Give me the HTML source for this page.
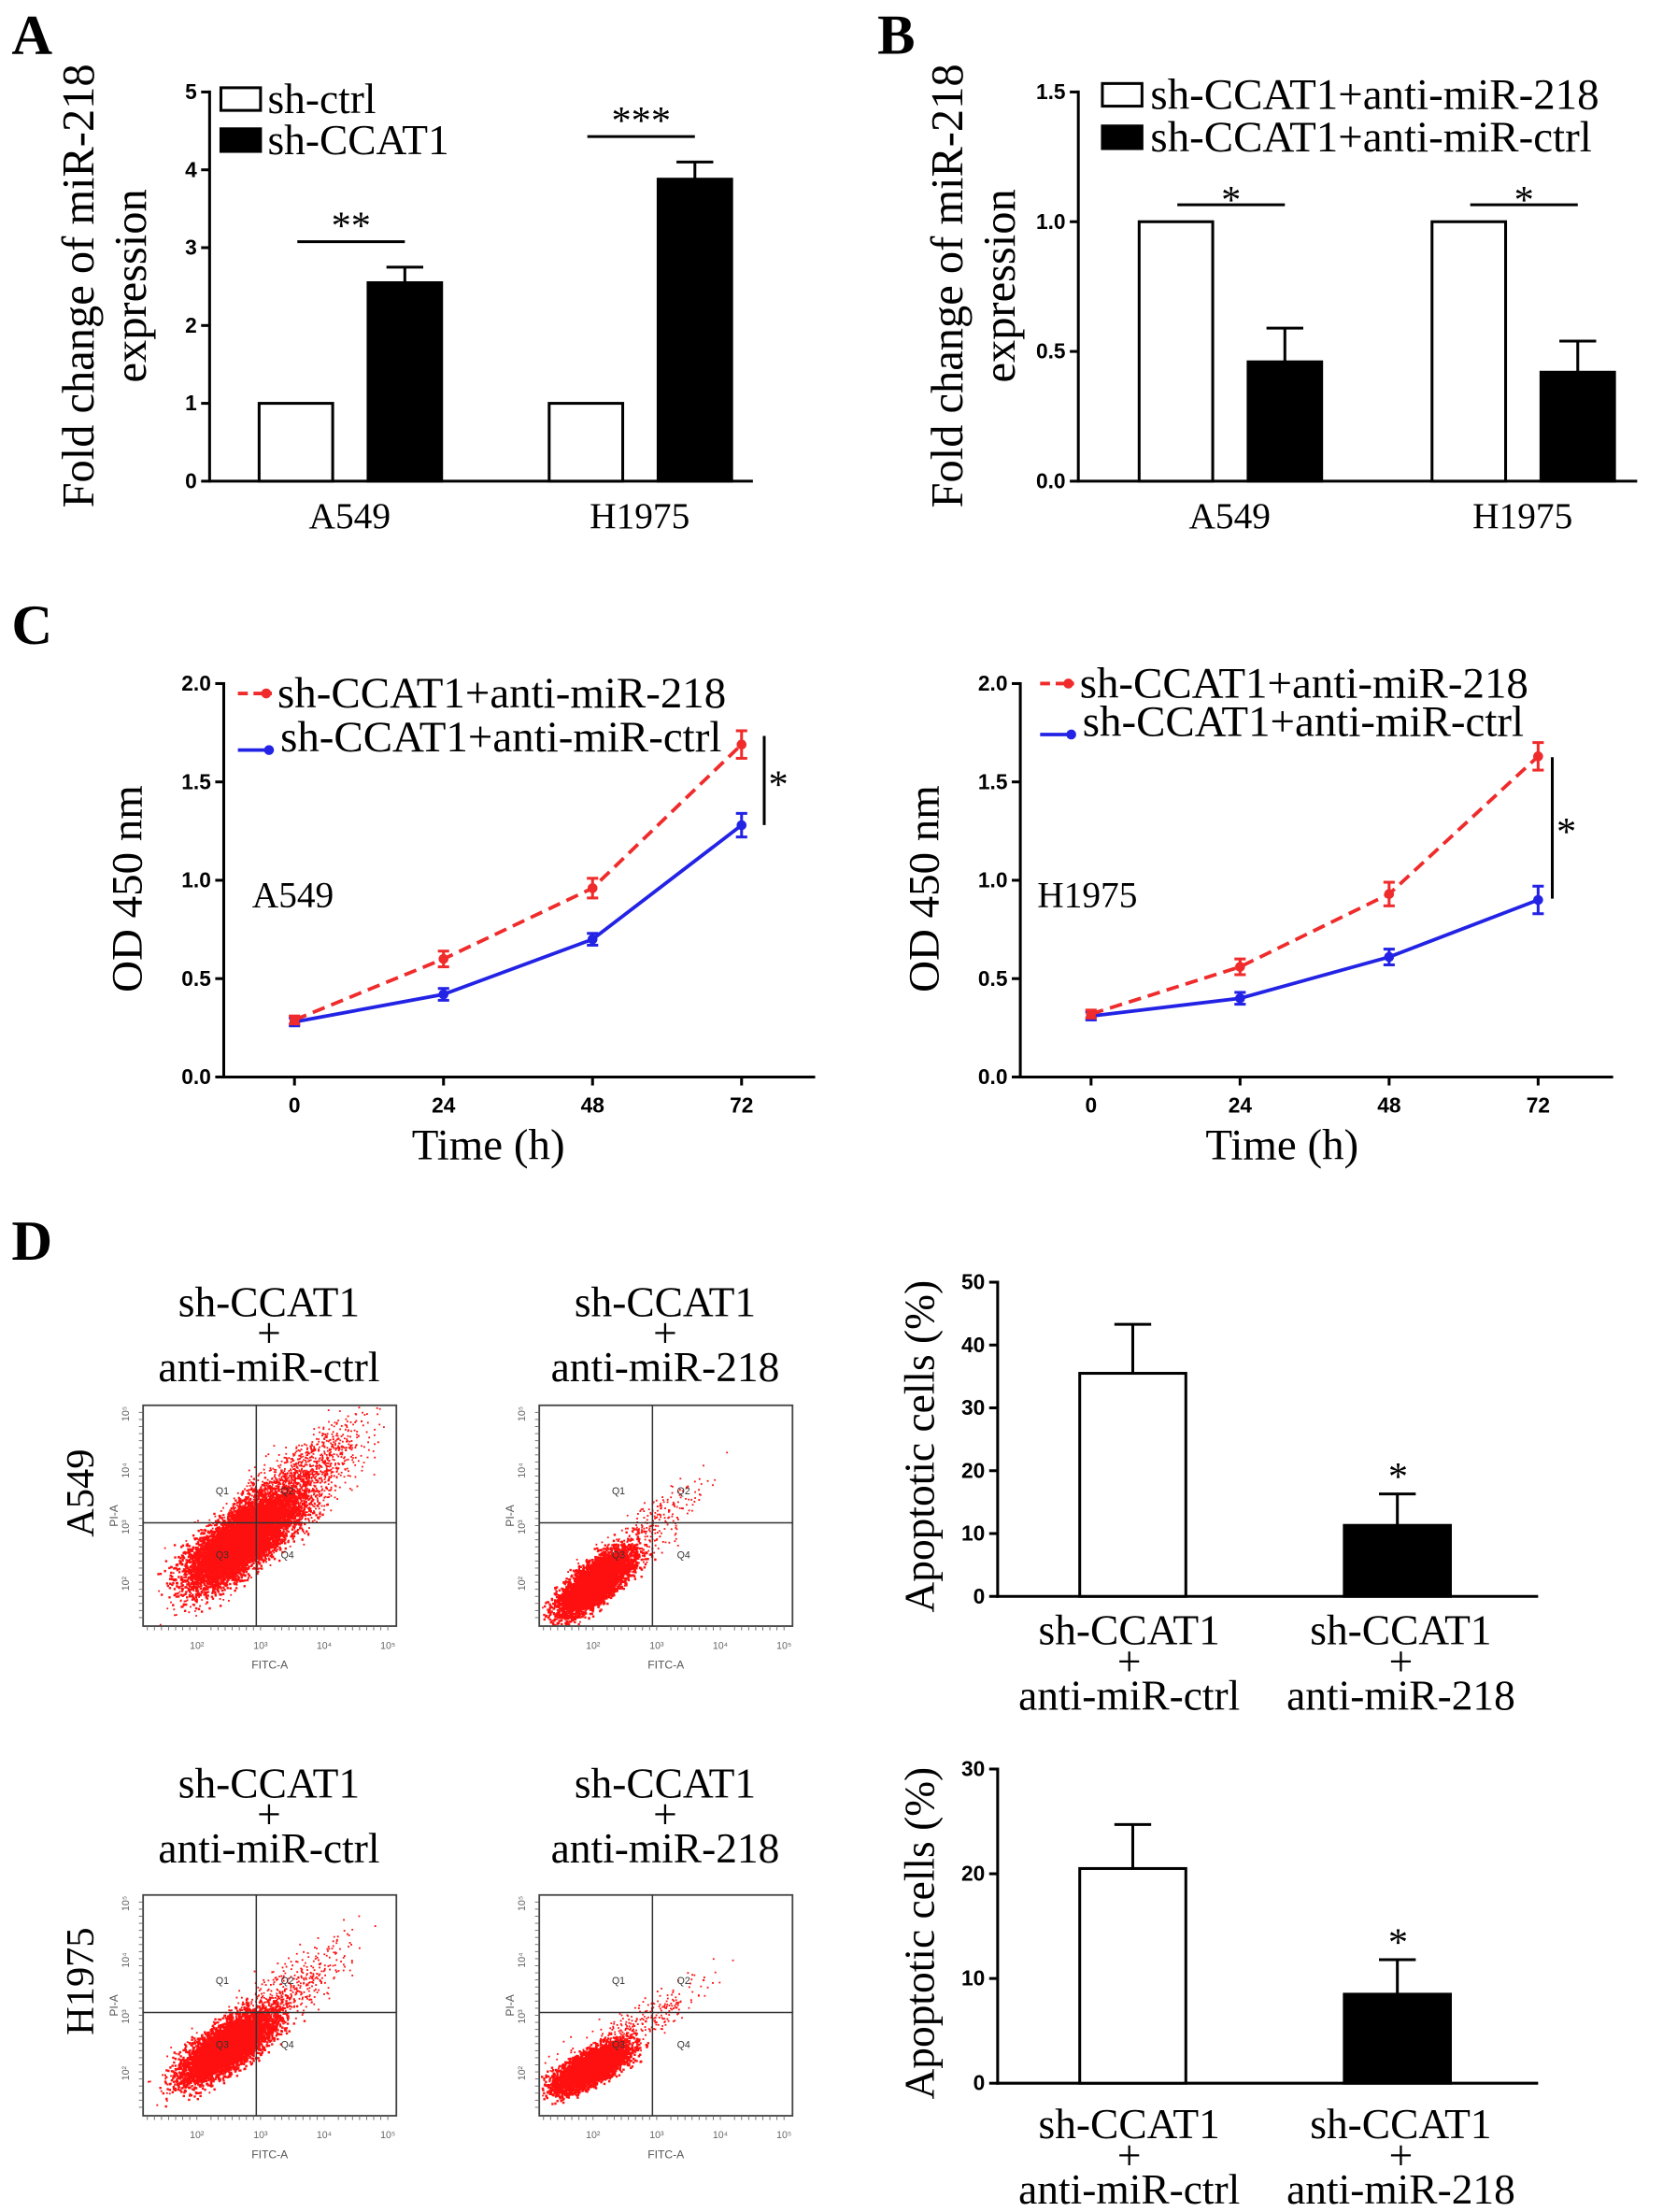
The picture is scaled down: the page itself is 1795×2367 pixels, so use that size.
<!DOCTYPE html>
<html><head><meta charset="utf-8"><style>
html,body{margin:0;padding:0;background:#fff}
svg{display:block}
</style></head><body>
<svg id="fig" width="1795" height="2367" viewBox="0 0 1185 1563" xmlns="http://www.w3.org/2000/svg">
<g id="root"></g>
</svg>
<script>
// ---- Data ----
const aCategories = ["A549", "H1975"];
const aCtrl = [1.0, 1.0];
const aCCAT1 = [2.55, 3.88];
const aCCAT1Err = [0.2, 0.22];
const aTicks = [0, 1, 2, 3, 4, 5];
const aStars = ["**", "***"];

const bCategories = ["A549", "H1975"];
const bAnti218 = [1.0, 1.0];
const bAntiCtrl = [0.46, 0.42];
const bAntiCtrlErr = [0.13, 0.12];
const bTicks = [0.0, 0.5, 1.0, 1.5];

const cTimes = [0, 24, 48, 72];
const cTicksY = [0.0, 0.5, 1.0, 1.5, 2.0];
const cA549Red = [0.29, 0.60, 0.96, 1.69];
const cA549RedErr = [0.02, 0.04, 0.05, 0.07];
const cA549Blue = [0.28, 0.42, 0.70, 1.28];
const cA549BlueErr = [0.02, 0.03, 0.03, 0.06];
const cH1975Red = [0.32, 0.56, 0.93, 1.63];
const cH1975RedErr = [0.02, 0.04, 0.06, 0.07];
const cH1975Blue = [0.31, 0.40, 0.61, 0.90];
const cH1975BlueErr = [0.02, 0.03, 0.04, 0.07];

const dA549Values = [35.5, 11.3];
const dA549Err = [7.8, 5.0];
const dA549Ticks = [0, 10, 20, 30, 40, 50];
const dH1975Values = [20.5, 8.5];
const dH1975Err = [4.2, 3.3];
const dH1975Ticks = [0, 10, 20, 30];

const NS = "http://www.w3.org/2000/svg";
const root = document.getElementById("root");
function el(tag, attrs, parent, text) {
  const e = document.createElementNS(NS, tag);
  for (const k in attrs) e.setAttribute(k, attrs[k]);
  if (text !== undefined) e.textContent = text;
  (parent || root).appendChild(e);
  return e;
}
function grp(name, parent) {
  const g = el("g", {}, parent);
  
  
  return g;
}
function txt(parent, x, y, s, size, opts) {
  opts = opts || {};
  const t = el("text", {x: x, y: y, "font-size": size, "text-anchor": opts.anchor || "middle",
    "font-family": opts.sans ? '"Liberation Sans",sans-serif' : '"Liberation Serif",serif',
    "font-weight": opts.bold ? "bold" : "normal", fill: opts.fill || "#000"}, parent, s);
  if (opts.rot) t.setAttribute("transform", "rotate(-90 " + x + " " + y + ")");
  
  
  return t;
}
function line(p, x1, y1, x2, y2, w, c, dash) {
  const l = el("line", {x1, y1, x2, y2, stroke: c || "#000", "stroke-width": w || 2}, p);
  if (dash) l.setAttribute("stroke-dasharray", dash);
  return l;
}

// Panel letters
[["A", 8, 38], ["B", 620, 38], ["C", 8, 455], ["D", 8, 890]].forEach(function (a) {
  txt(root, a[1], a[2], a[0], 40, {anchor: "start", bold: true, name: "panel-letter-" + a[0].toLowerCase()});
});

function barChart(cfg) {
  const g = grp(cfg.name);
  const y = v => cfg.y0 - (v - cfg.min) / (cfg.max - cfg.min) * (cfg.y0 - cfg.yTop);
  line(g, cfg.x0, cfg.yTop - 1, cfg.x0, cfg.y0 + 1, 2);
  line(g, cfg.x0 - 1, cfg.y0, cfg.xEnd, cfg.y0, 2);
  cfg.ticks.forEach(function (t) {
    line(g, cfg.x0 - 6, y(t), cfg.x0, y(t), 2);
    txt(g, cfg.x0 - 9, y(t) + 5, cfg.fmt(t), 15, {anchor: "end", sans: true, bold: true, name: "y-tick-label"});
  });
  cfg.groups.forEach(function (gr) {
    gr.bars.forEach(function (b) {
      const top = y(b.v);
      if (b.err !== undefined) {
        const et = y(b.v + b.err);
        line(g, b.x + b.w / 2, et, b.x + b.w / 2, top, 2);
        line(g, b.x + b.w / 2 - 13, et, b.x + b.w / 2 + 13, et, 2);
      }
      const r = el("rect", {x: b.x, y: top, width: b.w, height: cfg.y0 - top, fill: b.fill, stroke: "#000", "stroke-width": 2}, g);
      
      
    });
  });
  return {g, y};
}

// ---- Panel A ----
(function () {
  const xs = [183, 388];
  const groups = aCategories.map((c, i) => ({bars: [
    {x: xs[i], w: 52, v: aCtrl[i], fill: "#fff", name: "bar-" + c.toLowerCase() + "-sh-ctrl"},
    {x: xs[i] + 77, w: 52, v: aCCAT1[i], err: aCCAT1Err[i], fill: "#000", name: "bar-" + c.toLowerCase() + "-sh-ccat1"}]}));
  const r = barChart({name: "panel-a-chart", x0: 148, xEnd: 532, y0: 340, yTop: 65, min: 0, max: 5, ticks: aTicks, fmt: t => String(t), groups});
  aCategories.forEach(function (c, i) {
    txt(r.g, xs[i] + 64, 373, c, 26, {name: "x-tick-label"});
    const sy = r.y(aCCAT1[i] + aCCAT1Err[i]) - 18;
    line(r.g, xs[i] + 27, sy, xs[i] + 103, sy, 2);
    txt(r.g, xs[i] + 65, sy - 2, aStars[i], 28, {name: "significance-stars"});
  });
  el("rect", {x: 156, y: 62, width: 28, height: 16, fill: "#fff", stroke: "#000", "stroke-width": 2}, r.g);
  txt(r.g, 189, 80, "sh-ctrl", 30, {anchor: "start", name: "legend-entry-sh-ctrl"});
  el("rect", {x: 156, y: 91, width: 28, height: 16, fill: "#000", stroke: "#000", "stroke-width": 2}, r.g);
  txt(r.g, 189, 109, "sh-CCAT1", 30, {anchor: "start", name: "legend-entry-sh-ccat1"});
  txt(r.g, 66, 202, "Fold change of miR-218", 32, {rot: true, name: "y-axis-title"});
  txt(r.g, 103, 202, "expression", 32, {rot: true, name: "y-axis-title"});
})();

// ---- Panel B ----
(function () {
  const xs = [805, 1012];
  const groups = bCategories.map((c, i) => ({bars: [
    {x: xs[i], w: 52, v: bAnti218[i], fill: "#fff", name: "bar-" + c.toLowerCase() + "-anti-mir-218"},
    {x: xs[i] + 77, w: 52, v: bAntiCtrl[i], err: bAntiCtrlErr[i], fill: "#000", name: "bar-" + c.toLowerCase() + "-anti-mir-ctrl"}]}));
  const r = barChart({name: "panel-b-chart", x0: 762, xEnd: 1157, y0: 340, yTop: 65, min: 0, max: 1.5, ticks: bTicks, fmt: t => t.toFixed(1), groups});
  bCategories.forEach(function (c, i) {
    txt(r.g, xs[i] + 64, 373, c, 26, {name: "x-tick-label"});
    const sy = r.y(bAnti218[i]) - 12;
    line(r.g, xs[i] + 27, sy, xs[i] + 103, sy, 2);
    txt(r.g, xs[i] + 65, sy + 6, "*", 28, {name: "significance-star"});
  });
  el("rect", {x: 779, y: 59, width: 28, height: 16, fill: "#fff", stroke: "#000", "stroke-width": 2}, r.g);
  txt(r.g, 813, 77, "sh-CCAT1+anti-miR-218", 31, {anchor: "start", name: "legend-entry-anti-mir-218"});
  el("rect", {x: 779, y: 89, width: 28, height: 16, fill: "#000", stroke: "#000", "stroke-width": 2}, r.g);
  txt(r.g, 813, 107, "sh-CCAT1+anti-miR-ctrl", 31, {anchor: "start", name: "legend-entry-anti-mir-ctrl"});
  txt(r.g, 680, 202, "Fold change of miR-218", 32, {rot: true, name: "y-axis-title"});
  txt(r.g, 717, 202, "expression", 32, {rot: true, name: "y-axis-title"});
})();

// ---- Panel C ----
function lineChart(cfg) {
  const g = grp(cfg.name);
  const y0 = 761, yTop = 483;
  const y = v => y0 - v / 2.0 * (y0 - yTop);
  const x = t => cfg.xt0 + t / 72 * (cfg.xt72 - cfg.xt0);
  line(g, cfg.x0, yTop - 1, cfg.x0, y0 + 1, 2);
  line(g, cfg.x0 - 1, y0, cfg.xEnd, y0, 2);
  cTicksY.forEach(function (t) {
    line(g, cfg.x0 - 6, y(t), cfg.x0, y(t), 2);
    txt(g, cfg.x0 - 9, y(t) + 5, t.toFixed(1), 15, {anchor: "end", sans: true, bold: true, name: "y-tick-label"});
  });
  cTimes.forEach(function (t) {
    line(g, x(t), y0, x(t), y0 + 6, 2);
    txt(g, x(t), y0 + 25, String(t), 15, {sans: true, bold: true, name: "x-tick-label"});
  });
  [[cfg.blue, cfg.blueErr, "#2323e6", null, "series-anti-mir-ctrl"], [cfg.red, cfg.redErr, "#f02b2b", "9 5", "series-anti-mir-218"]].forEach(function (s) {
    const sg = grp(s[4], g);
    const pts = cTimes.map((t, i) => x(t) + "," + y(s[0][i])).join(" ");
    const pl = el("polyline", {points: pts, fill: "none", stroke: s[2], "stroke-width": 2.5}, sg);
    if (s[3]) pl.setAttribute("stroke-dasharray", s[3]);
    cTimes.forEach(function (t, i) {
      const cx = x(t), v = s[0][i], e = s[1][i];
      line(sg, cx, y(v + e), cx, y(v - e), 2, s[2]);
      line(sg, cx - 4, y(v + e), cx + 4, y(v + e), 2, s[2]);
      line(sg, cx - 4, y(v - e), cx + 4, y(v - e), 2, s[2]);
      const m = el("circle", {cx, cy: y(v), r: 3.5, fill: s[2]}, sg);
      
      
    });
  });
  line(g, cfg.sigX, cfg.sigY1, cfg.sigX, cfg.sigY2, 2);
  txt(g, cfg.sigX + 10, (cfg.sigY1 + cfg.sigY2) / 2 + 12, "*", 28, {name: "significance-star"});
  txt(g, cfg.cellX, 641, cfg.cell, 26, {anchor: "start", name: "cell-line-label"});
  line(g, cfg.lgX, cfg.lgY1, cfg.lgX + 24, cfg.lgY1, 2.5, "#f02b2b", "7 4");
  el("circle", {cx: cfg.lgX + 20, cy: cfg.lgY1, r: 3.5, fill: "#f02b2b"}, g);
  txt(g, cfg.lgX + 28, cfg.lgY1 + 10, "sh-CCAT1+anti-miR-218", 31, {anchor: "start", name: "legend-entry-anti-mir-218"});
  line(g, cfg.lgX, cfg.lgY2, cfg.lgX + 24, cfg.lgY2, 2.5, "#2323e6");
  el("circle", {cx: cfg.lgX + 22, cy: cfg.lgY2, r: 3.5, fill: "#2323e6"}, g);
  txt(g, cfg.lgX + 30, cfg.lgY2 + 1, "sh-CCAT1+anti-miR-ctrl", 31, {anchor: "start", name: "legend-entry-anti-mir-ctrl"});
  txt(g, cfg.titleX, 819, "Time (h)", 31, {name: "x-axis-title"});
  txt(g, cfg.x0 - 58, 628, "OD 450 nm", 31, {rot: true, name: "y-axis-title"});
}
lineChart({name: "panel-c-a549-chart", x0: 158, xEnd: 576, xt0: 208, xt72: 524, red: cA549Red, redErr: cA549RedErr, blue: cA549Blue, blueErr: cA549BlueErr,
  sigX: 540, sigY1: 520, sigY2: 583, cell: "A549", cellX: 178, lgX: 168, lgY1: 490, lgY2: 530, titleX: 345});
lineChart({name: "panel-c-h1975-chart", x0: 721, xEnd: 1140, xt0: 771, xt72: 1087, red: cH1975Red, redErr: cH1975RedErr, blue: cH1975Blue, blueErr: cH1975BlueErr,
  sigX: 1097, sigY1: 535, sigY2: 635, cell: "H1975", cellX: 733, lgX: 735, lgY1: 483, lgY2: 519, titleX: 906});

// ---- Panel D flow plots ----
let seed = 12345;
function rnd() { seed = (seed * 16807) % 2147483647; return seed / 2147483647; }
function gauss() { let u = 0; for (let i = 0; i < 4; i++) u += rnd(); return (u - 2) / 0.577; }
function flowPlot(name, bx, by, cx, cy, sx, sy, nDense, nSparse, spread) {
  const g = grp(name);
  const w = 179, h = 156;
  const qx = bx + 80, qy = by + 83;
  let d = "";
  for (let i = 0; i < nDense; i++) {
    const a = gauss(), b = gauss();
    const px = cx + a * sx + b * sx * 0.3, py = cy - a * sy * 0.9 + b * sy * 0.45;
    if (px > bx + 1 && px < bx + w - 1 && py > by + 1 && py < by + h - 1) d += "M" + px.toFixed(1) + " " + py.toFixed(1) + "h1.6v1.6h-1.6z";
  }
  for (let i = 0; i < nSparse; i++) {
    const a = gauss(), b = gauss();
    const px = cx + 25 + a * sx * spread, py = cy - 25 - a * sy * spread * 0.9 + b * sy * 0.9;
    if (px > bx + 1 && px < bx + w - 1 && py > by + 1 && py < by + h - 1) d += "M" + px.toFixed(1) + " " + py.toFixed(1) + "h1.2v1.2h-1.2z";
  }
  el("path", {d, fill: "#ff1010"}, g);
  el("rect", {x: bx, y: by, width: w, height: h, fill: "none", stroke: "#444", "stroke-width": 1.2}, g);
  line(g, qx, by, qx, by + h, 1, "#333");
  line(g, bx, qy, bx + w, qy, 1, "#333");
  [["Q1", qx - 24, qy - 20], ["Q2", qx + 22, qy - 20], ["Q3", qx - 24, qy + 25], ["Q4", qx + 22, qy + 25]].forEach(q => txt(g, q[1], q[2], q[0], 7, {sans: true, fill: "#333", name: "quadrant-label"}));
  [0, 1, 2, 3].forEach(function (i) {
    const tx = bx + 38 + i * 45;
    txt(g, tx, by + h + 16, "10" + ["²", "³", "⁴", "⁵"][i], 7, {sans: true, fill: "#666", name: "x-tick-label"});
    for (let k = 0; k < 8; k++) line(g, tx - 35 + k * 5, by + h, tx - 35 + k * 5, by + h + 3, 0.6, "#666");
    const ty = by + h - 30 - i * 40;
    txt(g, bx - 10, ty, "10" + ["²", "³", "⁴", "⁵"][i], 7, {sans: true, fill: "#666", rot: true, name: "y-tick-label"});
  });
  for (let k = 0; k < 30; k++) line(g, bx - 3, by + 5 + k * 5, bx, by + 5 + k * 5, 0.6, "#666");
  txt(g, bx + w / 2, by + h + 30, "FITC-A", 8, {sans: true, fill: "#555", name: "x-axis-title"});
  txt(g, bx - 18, by + h / 2, "PI-A", 8, {sans: true, fill: "#555", rot: true, name: "y-axis-title"});
}
function title(x, y, s2) {
  const g = grp("flow-plot-title");
  txt(g, x, y, "sh-CCAT1", 30);
  txt(g, x, y + 22, "+", 30);
  txt(g, x, y + 46, s2, 30);
}
title(190, 930, "anti-miR-ctrl");
title(470, 930, "anti-miR-218");
title(190, 1270, "anti-miR-ctrl");
title(470, 1270, "anti-miR-218");
txt(root, 66, 1055, "A549", 28, {rot: true, name: "row-label-a549"});
txt(root, 66, 1400, "H1975", 28, {rot: true, name: "row-label-h1975"});
flowPlot("flow-plot-a549-anti-mir-ctrl", 101, 993, 170, 1088, 18, 16, 6500, 2500, 1.6);
flowPlot("flow-plot-a549-anti-mir-218", 381, 993, 420, 1118, 12, 11, 5000, 400, 2.0);
flowPlot("flow-plot-h1975-anti-mir-ctrl", 101, 1339, 160, 1446, 15, 12, 5500, 800, 2.0);
flowPlot("flow-plot-h1975-anti-mir-218", 381, 1339, 418, 1460, 12, 8, 5000, 400, 2.2);

// ---- Panel D bar charts ----
function apopChart(name, vals, errs, ticks, y0, yTop, max, labY) {
  const groups = [{bars: [
    {x: 763, w: 75, v: vals[0], err: errs[0], fill: "#fff", name: "bar-anti-mir-ctrl"},
    {x: 950, w: 75, v: vals[1], err: errs[1], fill: "#000", name: "bar-anti-mir-218"}]}];
  const r = barChart({name, x0: 705, xEnd: 1087, y0, yTop, min: 0, max, ticks, fmt: t => String(t), groups});
  txt(r.g, 988, r.y(vals[1] + errs[1]) - 3, "*", 28, {name: "significance-star"});
  [[798, "anti-miR-ctrl"], [990, "anti-miR-218"]].forEach(function (l) {
    txt(r.g, l[0], labY, "sh-CCAT1", 30, {name: "x-tick-label"});
    txt(r.g, l[0], labY + 22, "+", 30, {name: "x-tick-label"});
    txt(r.g, l[0], labY + 46, l[1], 30, {name: "x-tick-label"});
  });
  txt(r.g, 660, (y0 + yTop) / 2 + 5, "Apoptotic cells (%)", 30, {rot: true, name: "y-axis-title"});
}
apopChart("panel-d-a549-chart", dA549Values, dA549Err, dA549Ticks, 1128, 906, 50, 1162);
apopChart("panel-d-h1975-chart", dH1975Values, dH1975Err, dH1975Ticks, 1472, 1250, 30, 1511);
</script>
</body></html>
